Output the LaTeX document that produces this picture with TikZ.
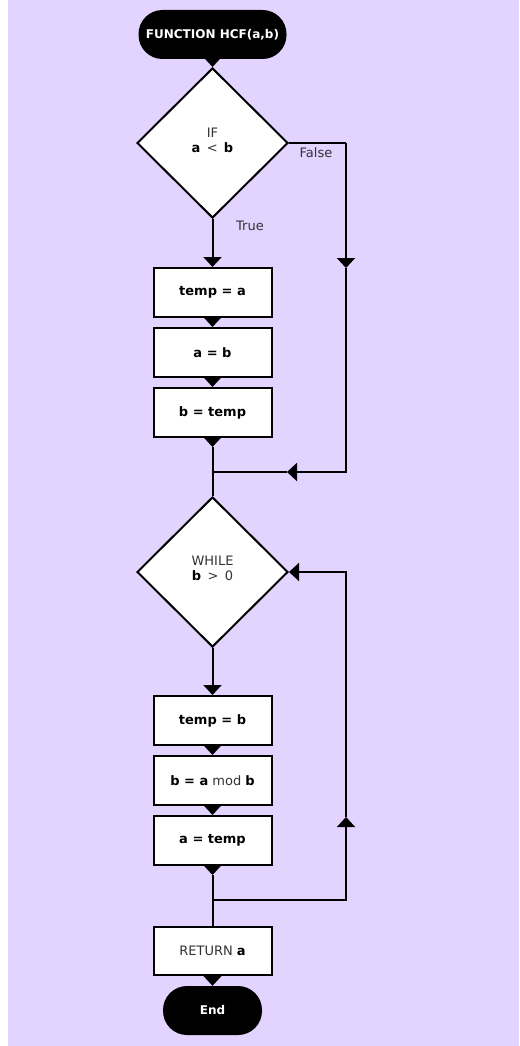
\documentclass[tikz,border=0pt]{standalone}
\usepackage{fontspec}
\setmainfont{DejaVu Sans}
\usetikzlibrary{arrows.meta,shapes.geometric}
\definecolor{bg}{RGB}{227,211,255}
\definecolor{txt}{RGB}{51,51,51}
\begin{document}
\begin{tikzpicture}[x=1pt,y=-1pt,
  font=\fontsize{13}{15.5}\selectfont,
  proc/.style={draw=black, line width=2pt, fill=white, minimum width=118pt, minimum height=49pt, inner sep=0pt, text=txt},
  term/.style={fill=black, rounded corners=24pt, minimum height=49pt, inner sep=0pt, text=white, font=\fontsize{12}{15}\selectfont\bfseries},
  dec/.style={diamond, aspect=1, draw=black, line width=2pt, fill=white, minimum width=151pt, minimum height=150pt, inner sep=0pt},
  dectext/.style={align=center, text=txt, inner sep=0pt},
  lbl/.style={text=txt, inner sep=0pt},
  conn/.style={draw=black, line width=2pt},
  tip/.style={-{Triangle[width=18pt,length=10pt]}}
]
\useasboundingbox (0,0) rectangle (519,1046);
\fill[bg] (8,0) rectangle (519,1046);

% nodes
\node[term, minimum width=148pt] (start) at (212.5,34.5) {FUNCTION HCF(a,b)};
\node[dec] (d1) at (212.5,143) {};
\node[dectext] (d1t) at (212.5,140.5) {IF\\\textbf{\color{black}a}\, < \,\textbf{\color{black}b}};
\node[proc] (b1) at (212.5,292.5) {\textbf{\color{black}temp = a}};
\node[proc] (b2) at (212.5,352.5) {\textbf{\color{black}a = b}};
\node[proc] (b3) at (212.5,412.5) {\textbf{\color{black}b = temp}};
\node[dec] (d2) at (212.5,572) {};
\node[dectext] (d2t) at (212.5,568.5) {WHILE\\\textbf{\color{black}b}\, > \,0};
\node[proc] (b4) at (212.5,720.5) {\textbf{\color{black}temp = b}};
\node[proc] (b5) at (212.5,780.5) {\textbf{\color{black}b = a} mod \textbf{\color{black}b}};
\node[proc] (b6) at (212.5,840.5) {\textbf{\color{black}a = temp}};
\node[proc, minimum height=48pt] (ret) at (212.5,951) {RETURN \textbf{\color{black}a}};
\node[term, minimum width=99pt] (end) at (212.5,1010.5) {End};

\node[lbl] (lf) at (316,153) {False};
\node[lbl] (lt) at (250,226) {True};

% coordinates
\coordinate (fr) at (346,143);
\coordinate (fm) at (346,268);
\coordinate (fb) at (346,472);
\coordinate (fa) at (287,472);
\coordinate (j1) at (212.5,472);
\coordinate (t3) at (212.5,447);
\coordinate (t6) at (212.5,875);
\coordinate (j2) at (212.5,900);
\coordinate (lb) at (346,900);
\coordinate (lu) at (346,817);
\coordinate (lt2) at (346,572);

% connectors
\draw[conn,tip] (start) -- (d1);
\draw[conn] (d1.east) -- (fr);
\draw[conn,tip] (fr) -- (fm);
\draw[conn,tip] (fm) -- (fb) -- (fa);
\draw[conn] (fa) -- (j1);
\draw[conn,tip] (d1) -- (b1);
\draw[conn,tip] (b1) -- (b2);
\draw[conn,tip] (b2) -- (b3);
\draw[conn,tip] (b3) -- (t3);
\draw[conn] (t3) -- (d2);
\draw[conn,tip] (d2) -- (b4);
\draw[conn,tip] (b4) -- (b5);
\draw[conn,tip] (b5) -- (b6);
\draw[conn,tip] (b6) -- (t6);
\draw[conn] (t6) -- (ret);
\draw[conn,tip] (j2) -- (lb) -- (lu);
\draw[conn,tip] (lu) -- (lt2) -- (d2.east);
\draw[conn,tip] (ret) -- (end);
\end{tikzpicture}
\end{document}
